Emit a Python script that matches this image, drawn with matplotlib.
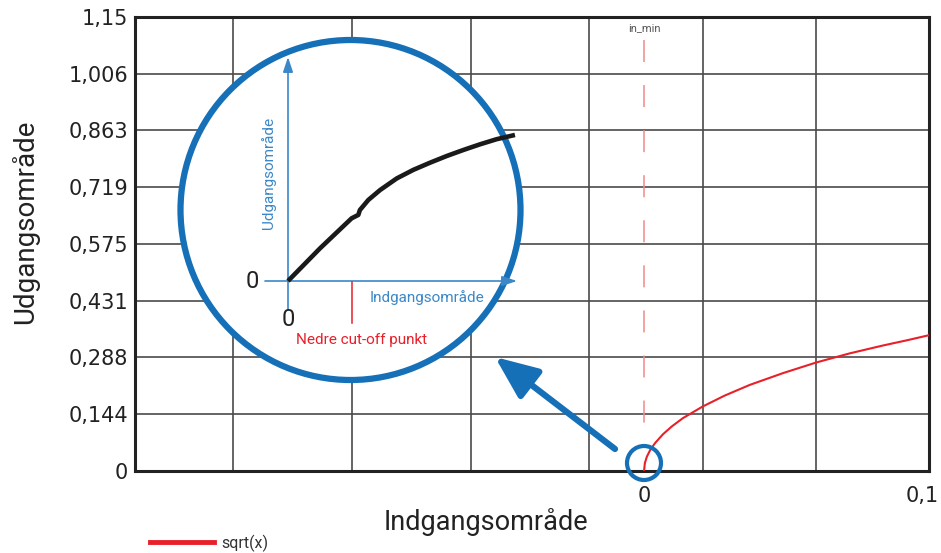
import matplotlib.pyplot as plt
from matplotlib.patches import Circle, FancyArrowPatch

plt.rcParams['font.family'] = ['Roboto', 'DejaVu Sans']

# main curve sqrt(x)
curve_x = [0, 0.0003, 0.001, 0.0022, 0.004, 0.0068, 0.010, 0.014, 0.021, 0.029,
           0.038, 0.05, 0.062, 0.074, 0.086, 0.0945, 0.1025]
curve_y = [0, 0.020, 0.036, 0.053, 0.071, 0.093, 0.113, 0.134, 0.163, 0.191,
           0.218, 0.248, 0.275, 0.298, 0.318, 0.331, 0.344]

y_ticks = [0, 0.144, 0.288, 0.431, 0.575, 0.719, 0.863, 1.006, 1.15]
y_labels = ['0', '0,144', '0,288', '0,431', '0,575', '0,719', '0,863', '1,006', '1,15']
x_ticks = [0, 0.1]
x_labels = ['0', '0,1']
x_grid = [-0.1477, -0.1052, -0.0622, -0.0198, 0.0211, 0.0619]
in_min = 0.0

# schematic inset curve (0..1 units)
inset_x = [0, 0.140, 0.278, 0.307, 0.314, 0.351, 0.402, 0.475, 0.547, 0.620,
           0.693, 0.766, 0.838, 0.911, 0.991]
inset_y = [0, 0.146, 0.280, 0.295, 0.317, 0.362, 0.406, 0.458, 0.496, 0.528,
           0.558, 0.585, 0.610, 0.633, 0.652]
inset_cut = 0.278

red = '#e8202a'
blue = '#1570b8'
lblue = '#3a88c8'
dark = '#222222'

fig = plt.figure(figsize=(9.41, 5.53), dpi=100)
ax = fig.add_axes([135 / 941, 1 - 471 / 553, 794 / 941, 454 / 553])

ax.plot(curve_x, curve_y, color=red, lw=1.5, label='sqrt(x)', zorder=3)
ax.plot([in_min, in_min], [1.092, 0.12], color='#f08a8a', lw=1.1,
        ls=(0, (14.4, 15.1)), zorder=2)
ax.text(in_min, 1.122, 'in_min', ha='center', va='center', fontsize=8, color='#555555')

ax.set_xlim(-0.1831, 0.1025)
ax.set_ylim(0, 1.15)
ax.set_yticks(y_ticks, y_labels, fontsize=15, family='DejaVu Sans', color=dark)
ax.set_xticks(x_ticks, x_labels, fontsize=15, family='DejaVu Sans', color=dark)
ax.set_xticks(x_grid, minor=True)
ax.tick_params(which='both', length=0)
ax.tick_params(axis='y', pad=5)
ax.tick_params(axis='x', pad=11)
ax.grid(axis='y', which='major', color='#4a4a4a', lw=1.2)
ax.grid(axis='x', which='minor', color='#4a4a4a', lw=1.2)
for s in ax.spines.values():
    s.set_linewidth(2.2)
    s.set_color(dark)

ax.set_ylabel('Udgangsområde', fontsize=20, color=dark)
ax.yaxis.set_label_coords(-0.121, 0.548)
ax.set_xlabel('Indgangsområde', fontsize=19.5, color=dark)
ax.xaxis.set_label_coords(0.442, -0.112)
ax.xaxis.label.set_va('center')

fig.legend(loc='center left', bbox_to_anchor=(136 / 941, 1 - 543 / 553), frameon=False,
           fontsize=11.5, handlelength=4.0, handletextpad=0.45,
           labelcolor='#333333').get_lines()[0].set_linewidth(3.5)

# overlay in pixel units for the magnifier
ov = fig.add_axes([0, 0, 1, 1], zorder=5)
ov.set_xlim(0, 941)
ov.set_ylim(553, 0)
ov.axis('off')
ov.patch.set_alpha(0)

ov.add_patch(Circle((350.5, 210), 170, fc='white', ec=blue, lw=4.5))
ov.add_patch(Circle((644, 463), 17, fill=False, ec=blue, lw=3))
ov.add_patch(FancyArrowPatch((615, 449), (495, 357), arrowstyle='-|>,head_length=26,head_width=11',
                             mutation_scale=1, lw=4.5, color=blue, shrinkA=0, shrinkB=0))

ox, oy, sx, sy = 288, 281, 229, 224
ov.add_patch(FancyArrowPatch((ox, 310), (ox, 57), arrowstyle='-|>,head_length=0.9,head_width=0.3',
                             mutation_scale=10, lw=1.2, color=lblue, shrinkA=0, shrinkB=0))
ov.add_patch(FancyArrowPatch((265, oy), (517, oy), arrowstyle='-|>,head_length=0.9,head_width=0.3',
                             mutation_scale=10, lw=1.2, color=lblue, shrinkA=0, shrinkB=0))
ov.plot([ox + sx * v for v in inset_x], [oy - sy * v for v in inset_y],
        color='#1a1a1a', lw=3.3, solid_capstyle='butt', solid_joinstyle='round')
ov.plot([ox + sx * inset_cut] * 2, [oy + 1, oy + 42], color=red, lw=1.1)
ov.text(252, oy, '0', ha='center', va='center', fontsize=17, color=dark)
ov.text(ox, 320, '0', ha='center', va='center', fontsize=17, color=dark)
ov.text(269, 173, 'Udgangsområde', rotation=90, ha='center', va='center', fontsize=11, color=lblue)
ov.text(427, 298, 'Indgangsområde', ha='center', va='center', fontsize=11, color=lblue)
ov.text(362, 340, 'Nedre cut-off punkt', ha='center', va='center', fontsize=11, color=red)

fig.savefig('out.png', dpi=100)
